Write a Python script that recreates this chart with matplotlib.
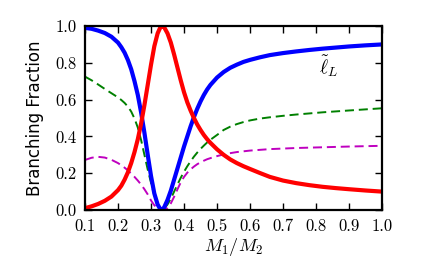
import matplotlib
matplotlib.use("Agg")
import matplotlib.pyplot as plt

# M1/M2 sample positions
ratio = [0.10, 0.12, 0.14, 0.16, 0.18, 0.20, 0.21, 0.22, 0.23, 0.24,
         0.25, 0.26, 0.27, 0.28, 0.29, 0.30, 0.31, 0.32, 0.327, 0.333,
         0.34, 0.35, 0.36, 0.37, 0.38, 0.39, 0.40, 0.41, 0.42, 0.43,
         0.44, 0.45, 0.46, 0.47, 0.48, 0.50, 0.52, 0.54, 0.56, 0.58,
         0.60, 0.63, 0.66, 0.70, 0.74, 0.78, 0.82, 0.86, 0.90, 0.95, 1.00]

blue_bf = [0.990, 0.985, 0.975, 0.962, 0.942, 0.910, 0.885, 0.855, 0.815, 0.765,
           0.700, 0.625, 0.530, 0.420, 0.300, 0.185, 0.090, 0.030, 0.008, 0.0,
           0.015, 0.055, 0.105, 0.165, 0.225, 0.285, 0.345, 0.400, 0.455, 0.505,
           0.550, 0.590, 0.625, 0.655, 0.680, 0.720, 0.750, 0.773, 0.790, 0.805,
           0.816, 0.830, 0.842, 0.853, 0.862, 0.870, 0.877, 0.883, 0.889, 0.895, 0.900]

red_bf = [0.010, 0.020, 0.033, 0.050, 0.073, 0.108, 0.132, 0.165, 0.205, 0.255,
          0.315, 0.385, 0.470, 0.570, 0.680, 0.790, 0.890, 0.960, 0.988, 1.000,
          0.993, 0.960, 0.910, 0.845, 0.775, 0.705, 0.640, 0.585, 0.540, 0.500,
          0.465, 0.435, 0.408, 0.385, 0.365, 0.330, 0.300, 0.275, 0.255, 0.238,
          0.223, 0.201, 0.180, 0.160, 0.146, 0.135, 0.126, 0.119, 0.113, 0.106, 0.100]

green_bf = [0.725, 0.705, 0.682, 0.658, 0.635, 0.612, 0.598, 0.582, 0.562, 0.535,
            0.497, 0.448, 0.380, 0.300, 0.220, 0.148, 0.082, 0.030, 0.008, 0.0,
            0.008, 0.030, 0.062, 0.100, 0.138, 0.175, 0.208, 0.238, 0.265, 0.290,
            0.312, 0.332, 0.350, 0.367, 0.382, 0.408, 0.435, 0.453, 0.467, 0.478,
            0.487, 0.497, 0.504, 0.512, 0.519, 0.525, 0.531, 0.536, 0.541, 0.547, 0.553]

magenta_bf = [0.272, 0.284, 0.289, 0.285, 0.273, 0.255, 0.243, 0.230, 0.215, 0.198,
              0.180, 0.160, 0.138, 0.113, 0.085, 0.052, 0.026, 0.008, 0.002, 0.0,
              0.002, 0.012, 0.036, 0.072, 0.112, 0.150, 0.180, 0.203, 0.221, 0.236,
              0.249, 0.259, 0.268, 0.276, 0.282, 0.293, 0.302, 0.309, 0.315, 0.319,
              0.323, 0.327, 0.331, 0.334, 0.337, 0.339, 0.341, 0.343, 0.345, 0.347, 0.349]

xticks = [0.1, 0.2, 0.3, 0.4, 0.5, 0.6, 0.7, 0.8, 0.9, 1.0]
yticks = [0.0, 0.2, 0.4, 0.6, 0.8, 1.0]

plt.rcParams["font.family"] = "cmr10"
plt.rcParams["mathtext.fontset"] = "cm"
plt.rcParams["axes.formatter.use_mathtext"] = True
plt.rcParams["lines.scale_dashes"] = False

fig = plt.figure(figsize=(4.25, 2.63), dpi=100)
ax = fig.add_axes([0.2, 0.2015, 0.699, 0.6995])

ax.plot(ratio, green_bf, color=(0, 0.5, 0), lw=1.4, dashes=(6.5, 3.5))
ax.plot(ratio, magenta_bf, color=(0.75, 0, 0.75), lw=1.4, dashes=(6.5, 3.5))
ax.plot(ratio, blue_bf, color="#0000ff", lw=3.0, solid_capstyle="butt")
ax.plot(ratio, red_bf, color="#ff0000", lw=3.0, solid_capstyle="butt")

ax.set_xlim(0.1, 1.0)
ax.set_ylim(0.0, 1.0)
ax.set_xticks(xticks)
ax.set_yticks(yticks)
ax.set_xticklabels(["%.1f" % v for v in xticks])
ax.set_yticklabels(["%.1f" % v for v in yticks])
ax.tick_params(direction="in", length=5, width=1, top=True, right=True,
               labelsize=12, pad=6)
for s in ax.spines.values():
    s.set_linewidth(1.6)

ax.set_xlabel(r"$M_1/M_2$", fontsize=13, labelpad=2)
ax.set_ylabel("Branching Fraction", family="DejaVu Sans", fontsize=12,
              labelpad=8)
ax.text(0.839, 0.783, r"$\tilde{\ell}_L$", fontsize=14, ha="center",
        va="center")

fig.savefig("out.png", dpi=100)
